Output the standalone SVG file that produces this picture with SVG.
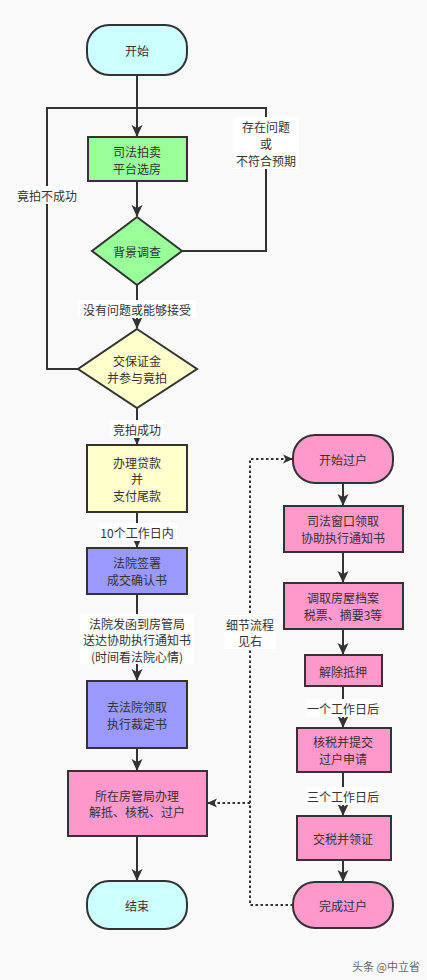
<svg xmlns="http://www.w3.org/2000/svg" width="427" height="980" viewBox="0 0 427 980">
<defs>
<marker id="arr" markerUnits="userSpaceOnUse" markerWidth="12" markerHeight="12" refX="11" refY="6" orient="auto">
<path d="M0,0.5 L12,6 L0,11.5 L3,6 Z" fill="#333"/>
</marker>
<marker id="arrs" markerUnits="userSpaceOnUse" markerWidth="10" markerHeight="10" refX="9" refY="5" orient="auto">
<path d="M0,0.5 L10,5 L0,9.5 L2.5,5 Z" fill="#333"/>
</marker>
</defs>
<style>
text{font-family:"Noto Sans CJK SC","Liberation Sans",sans-serif;font-size:12px;fill:#333;text-anchor:middle;dominant-baseline:central}
.n{stroke:#333;stroke-width:2}
.c{fill:none;stroke:#333;stroke-width:2}
.d{fill:none;stroke:#333;stroke-width:2;stroke-dasharray:2.5 2.5}
.lb{fill:#fff;stroke:none}
.cy{fill:#ccffff}.gr{fill:#99ff99}.ye{fill:#ffffcc}.pu{fill:#9999ff}.pk{fill:#ff99cc}
</style>
<rect width="427" height="980" fill="#f9f9f9"/>
<g id="connectors">
<path class="c" d="M137,75 V136" marker-end="url(#arr)"/>
<path class="c" d="M137,181 V216" marker-end="url(#arr)"/>
<path class="c" d="M182,251 H266 V108 H137"/>
<path class="c" d="M137,285 V328" marker-end="url(#arr)"/>
<path class="c" d="M78,369 H47 V108 H137"/>
<path class="c" d="M137,408 V444" marker-end="url(#arr)"/>
<path class="c" d="M137,512 V547" marker-end="url(#arr)"/>
<path class="c" d="M137,594 V680" marker-end="url(#arr)"/>
<path class="c" d="M137,748 V770" marker-end="url(#arr)"/>
<path class="c" d="M137,836 V880" marker-end="url(#arr)"/>
<path class="c" d="M343,483 V505" marker-end="url(#arr)"/>
<path class="c" d="M343,552 V582" marker-end="url(#arr)"/>
<path class="c" d="M343,629 V654" marker-end="url(#arr)"/>
<path class="c" d="M343,686 V727" marker-end="url(#arr)"/>
<path class="c" d="M343,772 V815" marker-end="url(#arr)"/>
<path class="c" d="M343,860 V881" marker-end="url(#arr)"/>
<path class="d" d="M293,905 H250 V459 H292" marker-end="url(#arrs)"/>
<path class="d" d="M250,803 H208" marker-end="url(#arrs)"/>
<rect class="lb" x="233" y="117" width="66" height="52"/>
<text x="266" y="126">存在问题</text>
<text x="266" y="143">或</text>
<text x="266" y="160">不符合预期</text>
<rect class="lb" x="16" y="186" width="62" height="18"/>
<text x="47" y="195">竟拍不成功</text>
<rect class="lb" x="78" y="300" width="118" height="18"/>
<text x="137" y="309">没有问题或能够接受</text>
<rect class="lb" x="110" y="420" width="54" height="18"/>
<text x="137" y="429">竞拍成功</text>
<rect class="lb" x="97" y="523" width="80" height="18"/>
<text x="137" y="532">10个工作日内</text>
<rect class="lb" x="80" y="614" width="114" height="50"/>
<text x="137" y="623">法院发函到房管局</text>
<text x="137" y="639.5">送达协助执行通知书</text>
<text x="137" y="656">(时间看法院心情)</text>
<rect class="lb" x="224" y="615" width="52" height="34"/>
<text x="250" y="624">细节流程</text>
<text x="250" y="640.5">见右</text>
<rect class="lb" x="305" y="699" width="76" height="18"/>
<text x="343" y="708">一个工作日后</text>
<rect class="lb" x="305" y="787" width="76" height="18"/>
<text x="343" y="796">三个工作日后</text>
</g>
<g id="start"><rect class="n cy" x="87" y="25" width="100" height="50" rx="22"/><text x="137" y="50">开始</text></g>
<g id="select"><rect class="n gr" x="88" y="137" width="99" height="44"/><text x="137" y="151">司法拍卖</text><text x="137" y="168">平台选房</text></g>
<g id="check"><path class="n gr" d="M137,217 L182,251 L137,285 L92,251 Z"/><text x="137" y="251">背景调查</text></g>
<g id="bid"><path class="n ye" d="M137,329 L197,369 L137,408 L78,369 Z"/><text x="137" y="360.5">交保证金</text><text x="137" y="377">并参与竟拍</text></g>
<g id="loan"><rect class="n ye" x="87" y="445" width="100" height="67"/><text x="137" y="462">办理贷款</text><text x="137" y="478.5">并</text><text x="137" y="495">支付尾款</text></g>
<g id="confirm"><rect class="n pu" x="87" y="548" width="100" height="46"/><text x="137" y="562.5">法院签署</text><text x="137" y="579">成交确认书</text></g>
<g id="ruling"><rect class="n pu" x="87" y="681" width="100" height="67"/><text x="137" y="706.5">去法院领取</text><text x="137" y="723">执行裁定书</text></g>
<g id="bureau"><rect class="n pk" x="68" y="771" width="139" height="65"/><text x="137" y="795">所在房管局办理</text><text x="137" y="811.5">解抵、核税、过户</text></g>
<g id="end"><rect class="n cy" x="87" y="881" width="100" height="48" rx="22"/><text x="137" y="905">结束</text></g>
<g id="tstart"><rect class="n pk" x="293" y="435" width="100" height="48" rx="22"/><text x="343" y="459">开始过户</text></g>
<g id="notice"><rect class="n pk" x="284" y="506" width="119" height="46"/><text x="343" y="520.5">司法窗口领取</text><text x="343" y="537">协助执行通知书</text></g>
<g id="archive"><rect class="n pk" x="284" y="583" width="119" height="46"/><text x="343" y="597.5">调取房屋档案</text><text x="343" y="614">税票、摘要3等</text></g>
<g id="release"><rect class="n pk" x="305" y="655" width="77" height="31"/><text x="343" y="671">解除抵押</text></g>
<g id="tax"><rect class="n pk" x="297" y="728" width="94" height="44"/><text x="343" y="741.5">核税并提交</text><text x="343" y="758">过户申请</text></g>
<g id="pay"><rect class="n pk" x="297" y="816" width="94" height="44"/><text x="343" y="838">交税并领证</text></g>
<g id="tend"><rect class="n pk" x="293" y="882" width="100" height="46" rx="22"/><text x="343" y="905">完成过户</text></g>
<text x="386" y="966" style="font-size:11px;fill:#666">头条 @中立省</text>
</svg>
